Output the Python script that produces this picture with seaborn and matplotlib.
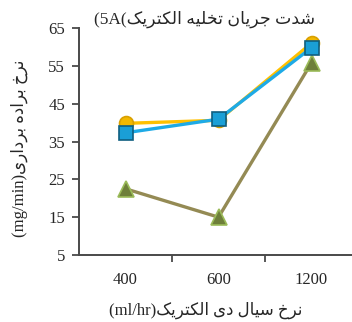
import numpy as np
import pandas as pd
import seaborn as sns
import matplotlib
matplotlib.use("Agg")
from matplotlib import pyplot as plt

# داده‌ها
x_labels = ["400", "600", "1200"]
s_circle = [39.8, 40.6, 61.0]
s_square = [37.3, 40.9, 59.8]
s_triangle = [22.5, 15.0, 55.8]

title_fa = "شدت جریان تخلیه الکتریک"
ylabel_fa = "نرخ براده برداری"
xlabel_fa = "نرخ سیال دی الکتریک"

# فرم‌های نمایشی حروف: (تنها، پایانی، آغازی، میانی)
FORMS = {
    "ا": ("\uFE8D", "\uFE8E", None, None),
    "ب": ("\uFE8F", "\uFE90", "\uFE91", "\uFE92"),
    "ت": ("\uFE95", "\uFE96", "\uFE97", "\uFE98"),
    "ج": ("\uFE9D", "\uFE9E", "\uFE9F", "\uFEA0"),
    "خ": ("\uFEA5", "\uFEA6", "\uFEA7", "\uFEA8"),
    "د": ("\uFEA9", "\uFEAA", None, None),
    "ر": ("\uFEAD", "\uFEAE", None, None),
    "س": ("\uFEB1", "\uFEB2", "\uFEB3", "\uFEB4"),
    "ش": ("\uFEB5", "\uFEB6", "\uFEB7", "\uFEB8"),
    "ل": ("\uFEDD", "\uFEDE", "\uFEDF", "\uFEE0"),
    "ن": ("\uFEE5", "\uFEE6", "\uFEE7", "\uFEE8"),
    "ه": ("\uFEE9", "\uFEEA", "\uFEEB", "\uFEEC"),
    "ک": ("\uFB8E", "\uFB8F", "\uFB90", "\uFB91"),
    "ی": ("\uFBFC", "\uFBFD", "\uFBFE", "\uFBFF"),
}


def dual(c):
    return c in FORMS and FORMS[c][2] is not None


def fa(text):
    out = []
    for i, c in enumerate(text):
        if c not in FORMS:
            out.append(c)
            continue
        prev = text[i - 1] if i > 0 else " "
        nxt = text[i + 1] if i + 1 < len(text) else " "
        cp = dual(prev)
        cn = dual(c) and nxt in FORMS
        f = FORMS[c]
        if cp and cn:
            out.append(f[3])
        elif cp:
            out.append(f[1])
        elif cn:
            out.append(f[2])
        else:
            out.append(f[0])
    return "".join(out[::-1])


fam = ["Liberation Serif", "DejaVu Sans"]

df = pd.DataFrame({
    "x": x_labels * 3,
    "y": s_circle + s_triangle + s_square,
    "s": ["c"] * 3 + ["t"] * 3 + ["q"] * 3,
})

sns.set_style("white")
plt.rcParams["font.family"] = fam

fig = plt.figure(figsize=(3.52, 3.22), dpi=100)
ax = fig.add_axes([79 / 352, 67 / 322, 279 / 352, 227 / 322])

styles = {
    "c": dict(color="#FFC000", marker="o", mfc="#F2B800", mec="#D9A000", ms=10),
    "t": dict(color="#948A54", marker="^", mfc="#6E7F3A", mec="#9BBB59", ms=11),
    "q": dict(color="#1EAAE6", marker="s", mfc="#1A9FD6", mec="#0F5F80", ms=9.5),
}
for key in ["c", "t", "q"]:
    st = styles[key]
    sns.lineplot(data=df[df["s"] == key], x="x", y="y", ax=ax, color=st["color"],
                 lw=2.4, marker=st["marker"], markersize=st["ms"],
                 markerfacecolor=st["mfc"], markeredgecolor=st["mec"],
                 markeredgewidth=1.2, legend=False)

ax.set_xlim(-0.5, 2.5)
ax.set_ylim(5, 65)
ax.set_yticks(np.arange(5, 66, 10))
ax.set_xticks(range(3))
ax.set_xticklabels(x_labels)
ax.set_xticks([0.5, 1.5], minor=True)
for s in ["top", "right"]:
    ax.spines[s].set_visible(False)
for s in ["left", "bottom"]:
    ax.spines[s].set_color("#4a4a4a")
    ax.spines[s].set_linewidth(1.4)
ax.tick_params(axis="y", which="major", length=5, width=1.3, color="#4a4a4a",
               direction="out", left=True, labelsize=12, pad=5)
ax.tick_params(axis="x", which="major", length=0, labelsize=12, pad=12)
ax.tick_params(axis="x", which="minor", length=5, width=1.3, color="#4a4a4a",
               direction="out", bottom=True)
ax.set_xlabel("(ml/hr)" + fa(xlabel_fa), fontsize=12, family=fam)
ax.set_ylabel("(mg/min)" + fa(ylabel_fa), fontsize=12, family=fam)
ax.xaxis.set_label_coords(127 / 279, -47 / 227)
ax.yaxis.set_label_coords(-51 / 279, 0.47)

fig.text(205 / 352, 1 - 19 / 322, "(5A(" + fa(title_fa), ha="center", va="center",
         fontsize=12.5, family=fam)

fig.savefig("out.png", dpi=100)
